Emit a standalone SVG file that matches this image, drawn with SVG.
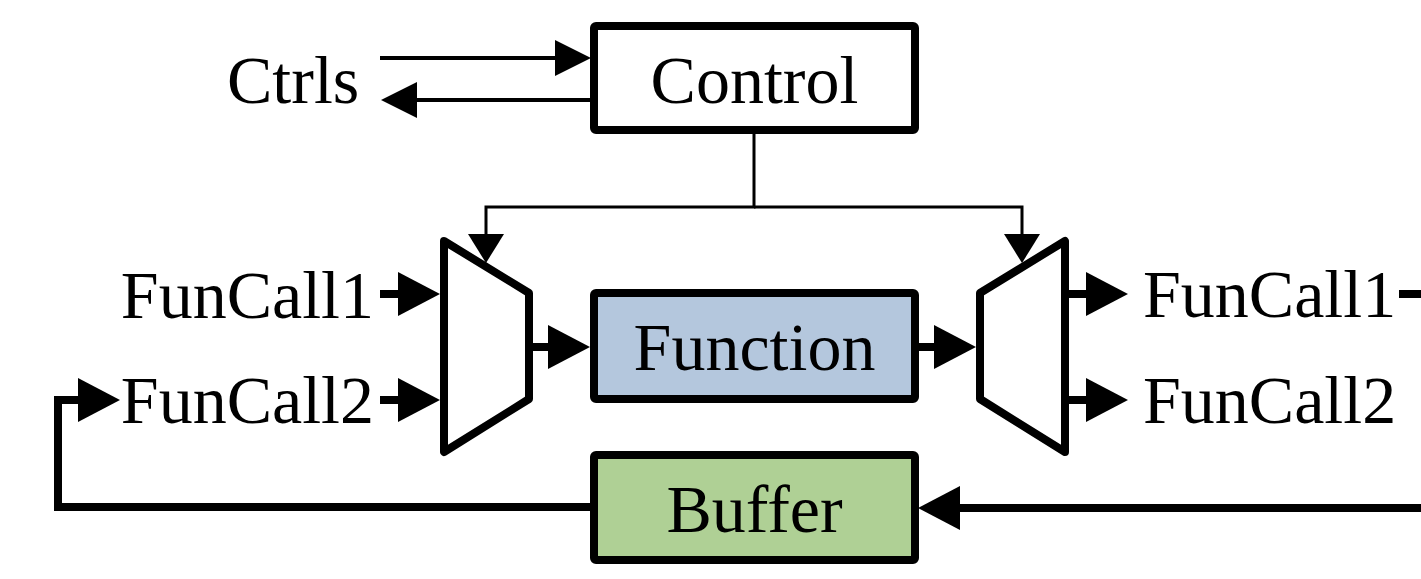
<svg xmlns="http://www.w3.org/2000/svg" width="1421" height="579" viewBox="0 0 1421 579">
<style>
.box{stroke:#000;stroke-width:8;stroke-linejoin:round}
.mux{fill:#fff;stroke:#000;stroke-width:8;stroke-linejoin:round}
.lbl{font-family:"Liberation Serif","Times New Roman",serif;font-size:68px;fill:#000}
.thick{fill:none;stroke:#000;stroke-width:8}
.med{fill:none;stroke:#000;stroke-width:4}
.thin{fill:none;stroke:#000;stroke-width:3}
</style>
<defs>
<marker id="big" viewBox="0 -22 42 44" refX="0" refY="0" markerWidth="42" markerHeight="44" markerUnits="userSpaceOnUse" orient="auto"><path d="M0,-22 L42,0 L0,22 z" fill="#000"/></marker>
<marker id="mid" viewBox="0 -18 36 36" refX="0" refY="0" markerWidth="36" markerHeight="36" markerUnits="userSpaceOnUse" orient="auto"><path d="M0,-18 L36,0 L0,18 z" fill="#000"/></marker>
<marker id="small" viewBox="0 -18 29 36" refX="0" refY="0" markerWidth="29" markerHeight="36" markerUnits="userSpaceOnUse" orient="auto"><path d="M0,-18 L29,0 L0,18 z" fill="#000"/></marker>
</defs>
<rect width="1421" height="579" fill="#fff"/>
<g id="connectors">
<path class="med" d="M380,58 H555" marker-end="url(#mid)"/>
<path class="med" d="M590,100 H417" marker-end="url(#mid)"/>
<path class="thin" d="M754,130 V207 H486 V234" marker-end="url(#small)"/>
<path class="thin" d="M754,207 H1022 V234" marker-end="url(#small)"/>
<path class="thick" d="M380,294 H398" marker-end="url(#big)"/>
<path class="thick" d="M380,400 H398" marker-end="url(#big)"/>
<path class="thick" d="M533,347 H548" marker-end="url(#big)"/>
<path class="thick" d="M919,347 H934" marker-end="url(#big)"/>
<path class="thick" d="M1069,294 H1086" marker-end="url(#big)"/>
<path class="thick" d="M1069,400 H1086" marker-end="url(#big)"/>
<path class="thick" d="M1399,294 H1421"/>
<path class="thick" d="M590,507 H58 V400 H78" marker-end="url(#big)"/>
<path class="thick" d="M1421,508 H960" marker-end="url(#big)"/>
</g>
<g id="ctrls"><text class="lbl" x="227" y="103">Ctrls</text></g>
<g id="control">
<rect class="box" x="594" y="26" width="321" height="104" rx="2" fill="#fff"/>
<text class="lbl" x="754.5" y="103" text-anchor="middle">Control</text>
</g>
<g id="mux-in"><polygon class="mux" points="444,241 529,293 529,399 444,452"/></g>
<g id="function">
<rect class="box" x="594" y="293" width="321" height="106" rx="2" fill="#b4c7dd"/>
<text class="lbl" x="754.5" y="370" text-anchor="middle">Function</text>
</g>
<g id="mux-out"><polygon class="mux" points="980,293 1065,241 1065,452 980,399"/></g>
<g id="buffer">
<rect class="box" x="594" y="455" width="321" height="105" rx="2" fill="#afd095"/>
<text class="lbl" x="754.5" y="532" text-anchor="middle">Buffer</text>
</g>
<g id="in-labels">
<text class="lbl" x="374" y="318" text-anchor="end">FunCall1</text>
<text class="lbl" x="374" y="423" text-anchor="end">FunCall2</text>
</g>
<g id="out-labels">
<text class="lbl" x="1143" y="317">FunCall1</text>
<text class="lbl" x="1143" y="423">FunCall2</text>
</g>
</svg>
